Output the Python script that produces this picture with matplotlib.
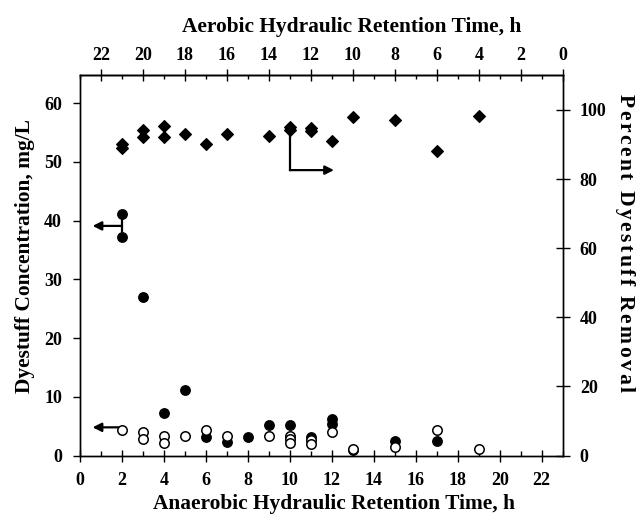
import matplotlib
matplotlib.use("Agg")
import matplotlib.pyplot as plt
from matplotlib.ticker import MultipleLocator
from matplotlib.font_manager import FontProperties

plt.rcParams['font.family'] = ['Liberation Serif', 'DejaVu Serif']
plt.rcParams['font.weight'] = 'bold'

# ---- data ----
# Percent dyestuff removal (right axis, diamonds)
removal_x = [2, 2, 3, 3, 4, 4, 5, 6, 7, 9, 10, 10, 11, 11, 12, 13, 15, 17, 19]
removal_pct = [90.2, 89.0, 94.2, 92.1, 95.2, 92.1, 93.1, 90.1, 93.1, 92.3,
               94.3, 95.0, 94.0, 94.9, 91.1, 97.9, 97.1, 88.1, 98.1]

# Dyestuff concentration (left axis), filled circles
conc_filled_x = [2, 2, 3, 4, 5, 6, 7, 8, 9, 10, 11, 12, 12, 13, 15, 17]
conc_filled_y = [41.1, 37.2, 27.0, 7.2, 11.2, 3.1, 2.3, 3.2, 5.2, 5.2, 3.2,
                 6.3, 5.4, 1.0, 2.5, 2.4]

# Dyestuff concentration (left axis), open circles
conc_open_x = [2, 3, 3, 4, 4, 5, 6, 7, 9, 10, 10, 10, 11, 11, 12, 13, 15, 17, 19]
conc_open_y = [4.3, 4.0, 2.8, 3.3, 2.2, 3.3, 4.3, 3.3, 3.3, 3.3, 2.75, 2.2,
               2.7, 2.0, 4.0, 1.1, 1.5, 4.3, 1.1]

x_ticks = list(range(0, 23, 2))
left_ticks = [0, 10, 20, 30, 40, 50, 60]
right_ticks = [0, 20, 40, 60, 80, 100]
total_hrt = 23

fig = plt.figure(figsize=(6.38, 5.16), dpi=100)
ax = fig.add_axes([0.1254, 0.1172, 0.7566, 0.7375])
ax2 = ax.twinx()

ax.set_xlim(0, 23)
ax.set_ylim(0, 64.8)
ax2.set_ylim(0, 110.1)

ax.plot(conc_filled_x, conc_filled_y, 'o', ms=6.8, mfc='black', mec='black',
        mew=1.0, zorder=3, clip_on=False)
ax.plot(conc_open_x, conc_open_y, 'o', ms=6.8, mfc='white', mec='black',
        mew=1.1, zorder=4, clip_on=False)
ax2.plot(removal_x, removal_pct, 'D', ms=5.9, mfc='black', mec='black',
         mew=0.8, zorder=3)

# arrows
ap = dict(arrowstyle='-|>', color='black', lw=1.6, mutation_scale=13,
          shrinkA=0, shrinkB=0)
ax.plot([2, 2], [41.1, 37.2], color='black', lw=1.6, zorder=2)
ax.annotate('', xy=(0.6, 39.1), xytext=(2, 39.1), arrowprops=ap)
ax.annotate('', xy=(0.6, 4.8), xytext=(1.85, 4.8), arrowprops=ap)
ax.plot([10, 10], [55.7, 48.6], color='black', lw=1.6, zorder=2)
ax.annotate('', xy=(12.1, 48.6), xytext=(10, 48.6), arrowprops=ap)

# ticks
ax.set_xticks(x_ticks)
ax.xaxis.set_minor_locator(MultipleLocator(1))
ax.set_yticks(left_ticks)
ax2.set_yticks(right_ticks)

tfs = 13
ax.tick_params(axis='x', which='major', direction='inout', length=8, width=1.0,
               pad=8.0, labelsize=tfs)
ax.tick_params(axis='x', which='minor', direction='in', length=3.6, width=1.0)
ax.tick_params(axis='y', which='major', direction='out', length=5, width=1.0,
               pad=8, labelsize=tfs)
ax2.tick_params(axis='y', which='major', direction='inout', length=9.6,
                width=1.0, pad=7.5, labelsize=tfs)

sec = ax.secondary_xaxis('top', functions=(lambda x: total_hrt - x,
                                           lambda x: total_hrt - x))
sec.set_xticks(x_ticks)
sec.xaxis.set_minor_locator(MultipleLocator(1))
sec.tick_params(axis='x', which='major', direction='inout', length=8.4,
                width=1.0, pad=3.5, labelsize=tfs)
sec.tick_params(axis='x', which='minor', direction='in', length=3, width=1.0)

for a in (ax, ax2):
    for s in a.spines.values():
        s.set_linewidth(1.0)
sec.spines['top'].set_linewidth(1.0)

for lab in (ax.get_xticklabels() + ax.get_yticklabels() +
            ax2.get_yticklabels() + sec.get_xticklabels()):
    lab.set_fontweight('bold')

lfs = 15.4
fig.text(0.523, 0.014, 'Anaerobic Hydraulic Retention Time, h', ha='center',
         va='baseline', fontsize=lfs, fontweight='bold')
fig.text(0.552, 0.9386, 'Aerobic Hydraulic Retention Time, h', ha='center',
         va='baseline', fontsize=lfs, fontweight='bold')
fig.text(0.039, 0.504, 'Dyestuff Concentration, mg/L', ha='center',
         va='center', rotation=90, fontsize=lfs, fontweight='bold')

# right label: slightly letter-spaced, running top to bottom
right_label = 'Percent Dyestuff Removal'
rfs = 15.6
renderer = fig.canvas.get_renderer()
prop = FontProperties(family='Liberation Serif', weight='bold', size=rfs)


def text_w(s):
    w, h, d = renderer.get_text_width_height_descent(s, prop, ismath=False)
    return w


natural = text_w(right_label)
target_px = 298.0
start_px = 94.0
extra = max(0.0, (target_px - natural) / (len(right_label) - 1))
x_fig = 0.979
H = fig.bbox.height
for i, ch in enumerate(right_label):
    if ch == ' ':
        continue
    off = text_w(right_label[:i]) if i > 0 else 0.0
    y_px = start_px + off + i * extra
    fig.text(x_fig, 1 - y_px / H, ch, rotation=270, rotation_mode='anchor',
             ha='left', va='center', fontproperties=prop)

fig.savefig('out.png', dpi=100)
